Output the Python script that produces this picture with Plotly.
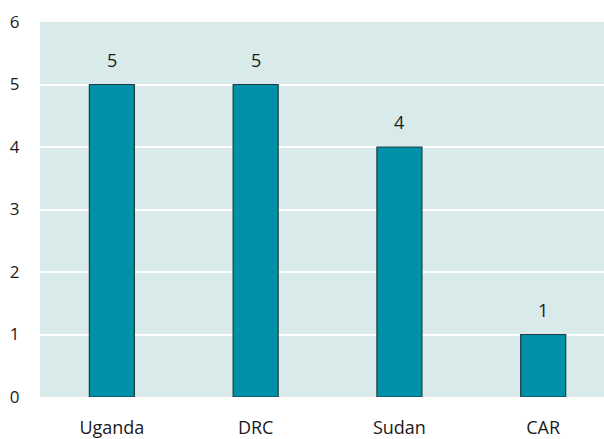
import plotly.graph_objects as go

categories = ["Uganda", "DRC", "Sudan", "CAR"]
values = [5, 5, 4, 1]
y_ticks = [0, 1, 2, 3, 4, 5, 6]

fig = go.Figure(go.Bar(
    x=categories, y=values,
    marker=dict(color="#0090A8", line=dict(color="#1d3c42", width=1.2)),
    hoverinfo="skip",
))
for c, v in zip(categories, values):
    fig.add_annotation(x=c, y=v, text=str(v), showarrow=False, yshift=25,
                       font=dict(size=18, color="#1a1a1a"))
fig.update_layout(
    width=604, height=439,
    margin=dict(l=40, r=0, t=22, b=42, autoexpand=False),
    paper_bgcolor="white", plot_bgcolor="#D9EAEA",
    bargap=0.687,
    font=dict(family="Open Sans, Noto Sans, sans-serif", size=17, color="#1a1a1a"),
    showlegend=False,
)
fig.update_xaxes(range=[-0.5, 3.423], showgrid=False, ticks="outside", ticklen=14,
                 tickcolor="rgba(0,0,0,0)", tickfont=dict(size=18), automargin=False)
fig.update_yaxes(range=[0, 6], tickvals=y_ticks, gridcolor="white", gridwidth=2,
                 zeroline=False, ticks="outside", ticklen=16, tickcolor="rgba(0,0,0,0)",
                 tickfont=dict(size=17), automargin=False)
fig.write_html("out.html", config={"displayModeBar": False},
               post_script="document.body.style.margin='0px';document.body.style.overflow='hidden';")
